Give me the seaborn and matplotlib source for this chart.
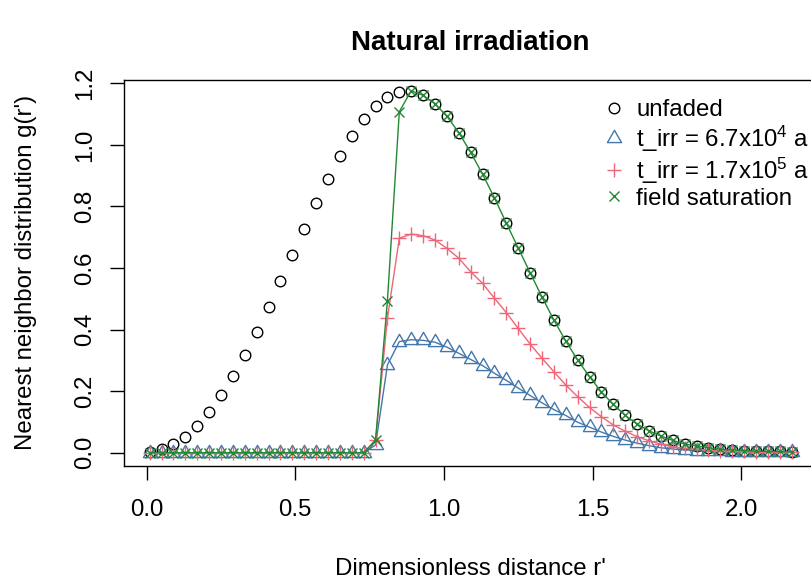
import matplotlib
matplotlib.use("Agg")
import matplotlib.pyplot as plt
from matplotlib.lines import Line2D
from matplotlib.path import Path
import seaborn as sns
import pandas as pd

# ---------------- data ----------------
r_dist = [0.01, 0.05, 0.09, 0.13, 0.17, 0.21, 0.25, 0.29, 0.33, 0.37,
          0.41, 0.45, 0.49, 0.53, 0.57, 0.61, 0.65, 0.69, 0.73, 0.77,
          0.81, 0.85, 0.89, 0.93, 0.97, 1.01, 1.05, 1.09, 1.13, 1.17,
          1.21, 1.25, 1.29, 1.33, 1.37, 1.41, 1.45, 1.49, 1.53, 1.57,
          1.61, 1.65, 1.69, 1.73, 1.77, 1.81, 1.85, 1.89, 1.93, 1.97,
          2.01, 2.05, 2.09, 2.13, 2.17]

unfaded = [0.003, 0.011, 0.027, 0.052, 0.088, 0.133, 0.187, 0.249, 0.317, 0.392,
           0.472, 0.557, 0.642, 0.728, 0.810, 0.890, 0.963, 1.029, 1.083, 1.127,
           1.157, 1.172, 1.176, 1.161, 1.134, 1.093, 1.040, 0.976, 0.905, 0.828,
           0.746, 0.665, 0.585, 0.506, 0.431, 0.363, 0.301, 0.247, 0.197, 0.157,
           0.121, 0.093, 0.071, 0.054, 0.040, 0.028, 0.022, 0.016, 0.011, 0.009,
           0.007, 0.005, 0.004, 0.004, 0.002]

t_irr_67e4 = [0.0, 0.0, 0.0, 0.0, 0.0, 0.0, 0.0, 0.0, 0.0, 0.0,
              0.0, 0.0, 0.0, 0.0, 0.0, 0.0, 0.0, 0.0, 0.0, 0.025,
              0.285, 0.361, 0.367, 0.365, 0.359, 0.343, 0.323, 0.303, 0.283, 0.258,
              0.235, 0.210, 0.186, 0.162, 0.140, 0.121, 0.099, 0.083, 0.067, 0.053,
              0.041, 0.031, 0.023, 0.016, 0.012, 0.009, 0.007, 0.005, 0.004, 0.003,
              0.003, 0.002, 0.002, 0.002, 0.001]

t_irr_17e5 = [0.0, 0.0, 0.0, 0.0, 0.0, 0.0, 0.0, 0.0, 0.0, 0.0,
              0.0, 0.0, 0.0, 0.0, 0.0, 0.0, 0.0, 0.0, 0.0, 0.040,
              0.437, 0.697, 0.710, 0.705, 0.691, 0.664, 0.632, 0.588, 0.550, 0.502,
              0.455, 0.404, 0.353, 0.307, 0.263, 0.220, 0.182, 0.147, 0.117, 0.090,
              0.070, 0.052, 0.039, 0.028, 0.019, 0.014, 0.011, 0.008, 0.006, 0.005,
              0.004, 0.003, 0.003, 0.002, 0.002]

field_saturation = [0.0, 0.0, 0.0, 0.0, 0.0, 0.0, 0.0, 0.0, 0.0, 0.0,
                    0.0, 0.0, 0.0, 0.0, 0.0, 0.0, 0.0, 0.0, 0.0, 0.041,
                    0.494, 1.108, 1.176, 1.161, 1.134, 1.093, 1.040, 0.976, 0.905, 0.828,
                    0.746, 0.665, 0.585, 0.506, 0.431, 0.363, 0.301, 0.247, 0.197, 0.157,
                    0.121, 0.093, 0.071, 0.054, 0.040, 0.028, 0.022, 0.016, 0.011, 0.009,
                    0.007, 0.005, 0.004, 0.004, 0.002]

series_labels = ["unfaded", "t_irr = 6.7x10$^4$ a", "t_irr = 1.7x10$^5$ a", "field saturation"]
x_ticks = [0.0, 0.5, 1.0, 1.5, 2.0]
y_ticks = [0.0, 0.2, 0.4, 0.6, 0.8, 1.0, 1.2]

# ---------------- style ----------------
sns.set_style("ticks")
plt.rcParams["font.family"] = ["Liberation Sans", "DejaVu Sans"]
plt.rcParams["mathtext.fontset"] = "custom"
plt.rcParams["mathtext.rm"] = "Liberation Sans"
plt.rcParams["mathtext.it"] = "Liberation Sans:italic"
plt.rcParams["mathtext.bf"] = "Liberation Sans:bold"
plt.rcParams["text.color"] = "black"
plt.rcParams["axes.labelcolor"] = "black"
plt.rcParams["xtick.color"] = "black"
plt.rcParams["ytick.color"] = "black"
plt.rcParams["axes.edgecolor"] = "black"

FS = 17.3
BLUE = "#4477AA"
PINK = "#EE6677"
GREEN = "#228833"

# R-like triangle (pch = 2), centred on its centroid
tri = Path([(0, 1), (-0.866, -0.5), (0.866, -0.5), (0, 0)],
           [Path.MOVETO, Path.LINETO, Path.LINETO, Path.CLOSEPOLY])

df = pd.DataFrame({"r": r_dist, "unfaded": unfaded, "t1": t_irr_67e4,
                   "t2": t_irr_17e5, "sat": field_saturation})

fig = plt.figure(figsize=(8.11, 5.81), dpi=100)
ax = fig.add_axes([0.15290, 0.19793, 0.85487, 0.66489])

sns.lineplot(data=df, x="r", y="unfaded", ax=ax, linestyle="", marker="o",
             markersize=7.6, markerfacecolor="none", markeredgecolor="black",
             markeredgewidth=1.0, color="black", errorbar=None)
sns.lineplot(data=df, x="r", y="t1", ax=ax, color=BLUE, linewidth=1.0, marker=tri,
             markersize=11.75, markerfacecolor="none", markeredgecolor=BLUE,
             markeredgewidth=1.0, errorbar=None)
sns.lineplot(data=df, x="r", y="t2", ax=ax, color=PINK, linewidth=1.0, marker="+",
             markersize=10.7, markeredgecolor=PINK, markeredgewidth=1.0, errorbar=None)
sns.lineplot(data=df, x="r", y="sat", ax=ax, color=GREEN, linewidth=1.0, marker="x",
             markersize=7.8, markeredgecolor=GREEN, markeredgewidth=1.0, errorbar=None)

ax.set_xlim(-0.0764, 2.2564)
ax.set_ylim(-0.0432, 1.2118)
ax.set_xticks(x_ticks)
ax.set_xticklabels([f"{v:.1f}" for v in x_ticks])
ax.set_yticks(y_ticks)
ax.set_yticklabels([f"{v:.1f}" for v in y_ticks], rotation=90, va="center")

for sp in ax.spines.values():
    sp.set_visible(True)
    sp.set_linewidth(1.0)
    sp.set_color("black")

ax.tick_params(axis="both", direction="out", length=10, width=1.0, colors="black",
               labelsize=FS)
ax.tick_params(axis="x", pad=14)
ax.tick_params(axis="y", pad=10)

ax.set_xlabel("Dimensionless distance r'", fontsize=FS)
ax.set_ylabel("Nearest neighbor distribution g(r')", fontsize=FS)
ax.xaxis.label.set_va("center")
ax.yaxis.label.set_va("center")
ax.xaxis.set_label_coords(0.5, -0.267)
ax.yaxis.set_label_coords(-0.1416, 0.5)

ax.set_title("Natural irradiation", fontsize=20, fontweight="bold", pad=21.4,
             color="black")

handles = [
    Line2D([], [], linestyle="none", marker="o", markersize=7.6, markerfacecolor="none",
           markeredgecolor="black", markeredgewidth=1.0),
    Line2D([], [], linestyle="none", marker=tri, markersize=11.75, markerfacecolor="none",
           markeredgecolor=BLUE, markeredgewidth=1.0),
    Line2D([], [], linestyle="none", marker="+", markersize=10.7,
           markeredgecolor=PINK, markeredgewidth=1.0),
    Line2D([], [], linestyle="none", marker="x", markersize=7.8,
           markeredgecolor=GREEN, markeredgewidth=1.0),
]
ax.legend(handles, series_labels, loc="upper left",
          bbox_to_anchor=(604.4 / 811, 1 - 99.5 / 581), bbox_transform=fig.transFigure,
          frameon=False, fontsize=FS, borderpad=0, borderaxespad=0,
          handlelength=0.8, handletextpad=0.52, labelspacing=0.08)

fig.savefig("out.png", dpi=100)
